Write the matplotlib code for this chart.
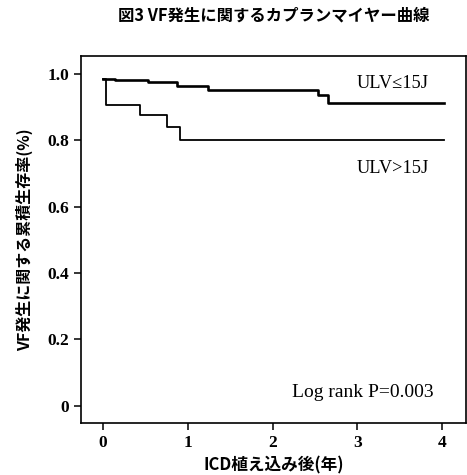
import matplotlib
matplotlib.use("Agg")
import matplotlib.pyplot as plt

# Kaplan-Meier step data (years, survival)
low_t = [0.0, 0.14, 0.53, 0.87, 1.24, 2.53, 2.65, 4.02]
low_s = [0.986, 0.983, 0.975, 0.965, 0.952, 0.937, 0.913, 0.913]
high_t = [0.0, 0.03, 0.435, 0.75, 0.905, 4.02]
high_s = [0.986, 0.905, 0.875, 0.84, 0.802, 0.802]

xticks = [0, 1, 2, 3, 4]
yticks = [0, 0.2, 0.4, 0.6, 0.8, 1.0]
ytick_labels = ["0", "0.2", "0.4", "0.6", "0.8", "1.0"]

CJK = ["Noto Sans CJK JP", "DejaVu Sans"]
SERIF = ["Liberation Serif", "DejaVu Serif"]

fig = plt.figure(figsize=(4.67, 4.75), dpi=100)
ax = fig.add_axes([0.1734, 0.1095, 0.8246, 0.7725])

ax.step(low_t, low_s, where="post", color="black", lw=1.9)
ax.step(high_t, high_s, where="post", color="black", lw=1.3)

ax.set_xlim(-0.26, 4.28)
ax.set_ylim(-0.052, 1.054)
ax.set_xticks(xticks)
ax.set_yticks(yticks)
ax.set_yticklabels(ytick_labels)
ax.tick_params(direction="out", length=5, width=1.1, labelsize=12.5)
for lab in ax.get_xticklabels() + ax.get_yticklabels():
    lab.set_family(SERIF)
    lab.set_fontweight("bold")
for sp in ax.spines.values():
    sp.set_linewidth(1.2)

ax.text(2.99, 0.97, "ULV≤15J", family=SERIF, fontsize=13.2, va="center")
ax.text(2.99, 0.716, "ULV>15J", family=SERIF, fontsize=13.2, va="center")
ax.text(2.23, 0.04, "Log rank P=0.003", family=SERIF, fontsize=14, va="center")

ax.set_xlabel("ICD植え込み後(年)", family=CJK, fontsize=12, fontweight="bold", labelpad=4)
ax.set_ylabel("VF発生に関する累積生存率(%)", family=CJK, fontsize=11.5, fontweight="bold", labelpad=10)
fig.text(0.587, 0.968, "図3 VF発生に関するカプランマイヤー曲線", family=CJK, fontsize=11.8,
         fontweight="bold", ha="center", va="center")

fig.savefig("out.png", dpi=100)
